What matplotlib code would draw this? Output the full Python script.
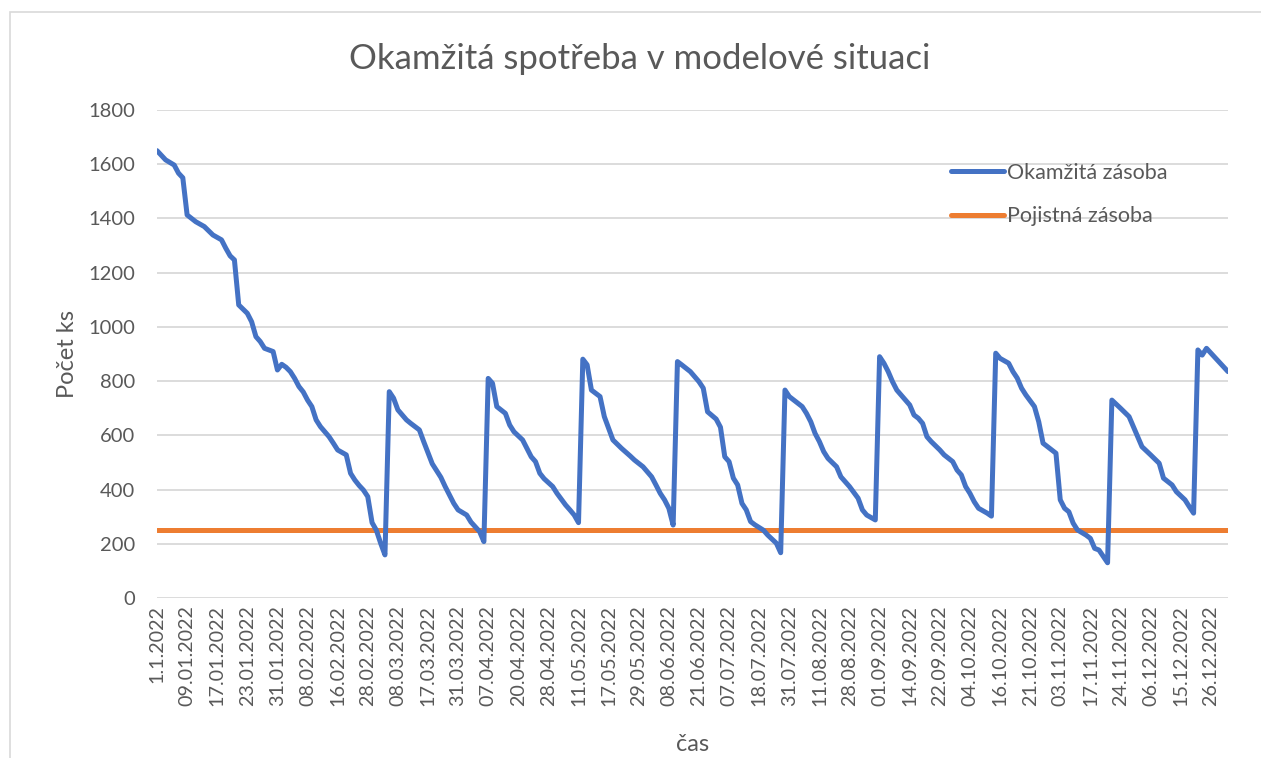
import matplotlib
matplotlib.use("Agg")
import matplotlib.pyplot as plt
from matplotlib.patches import Rectangle

# day index (category position) and on-hand stock
day_idx = [
    0, 2, 4, 5, 6, 7, 9, 11, 13, 15, 16, 17, 18, 19, 21, 22, 23, 24, 25, 27,
    28, 29, 30, 31, 32, 33, 34, 35, 36, 37, 38, 40, 41, 42, 44, 45, 46, 47, 48, 49,
    50, 51, 52, 53, 54, 55, 56, 58, 59, 61, 62, 64, 66, 67, 69, 70, 72, 73, 75, 76,
    77, 78, 79, 81, 82, 83, 85, 86, 87, 88, 89, 90, 92, 93, 95, 96, 97, 98, 99, 100,
    101, 103, 104, 106, 108, 110, 111, 113, 115, 116, 117, 118, 119, 120, 121, 122, 124, 126, 127, 128,
    130, 131, 132, 133, 134, 135, 136, 137, 138, 139, 141, 142, 144, 145, 146, 147, 150, 151, 152, 153,
    154, 155, 156, 158, 159, 160, 161, 163, 164, 165, 167, 168, 169, 170, 171, 172, 174, 175, 176, 177,
    178, 179, 180, 182, 183, 185, 186, 187, 188, 189, 190, 191, 193, 194, 195, 196, 198, 199, 200, 201,
    202, 204, 205, 206, 208, 209, 210, 211, 212, 213, 214, 216, 217, 218, 219, 221, 222, 224, 226, 227,
    228, 229, 231, 233, 234, 236, 237, 239, 240, 241, 242, 243, 244, 249,
]
stock = [
    1650, 1616, 1597, 1567, 1550, 1413, 1388, 1370, 1339, 1321, 1290, 1262, 1247, 1081, 1050, 1019, 964, 946, 921, 909,
    841, 862, 851, 835, 810, 780, 760, 730, 706, 657, 632, 595, 571, 546, 528, 460, 435, 415, 398, 374,
    278, 250, 202, 159, 761, 737, 694, 657, 644, 620, 577, 495, 445, 411, 349, 325, 306, 280, 245, 208,
    810, 792, 706, 681, 638, 613, 583, 552, 521, 503, 460, 440, 411, 386, 343, 325, 306, 278, 881, 860,
    767, 743, 669, 583, 552, 524, 509, 484, 447, 417, 386, 362, 331, 269, 872, 860, 835, 798, 774, 687,
    660, 630, 521, 503, 442, 417, 349, 325, 282, 270, 250, 232, 202, 167, 767, 743, 706, 681, 650, 607,
    577, 540, 515, 484, 447, 429, 411, 368, 325, 306, 288, 890, 866, 835, 798, 767, 730, 712, 675, 663,
    644, 595, 577, 546, 528, 503, 472, 454, 411, 386, 355, 331, 313, 302, 903, 884, 866, 835, 811, 774,
    749, 706, 650, 571, 546, 534, 362, 331, 318, 276, 251, 232, 220, 183, 177, 130, 730, 700, 669, 632,
    595, 558, 528, 497, 442, 417, 392, 362, 337, 313, 915, 896, 921, 835,
]
n_days = 250
safety_stock = 250

tick_labels = [
    "1.1.2022", "09.01.2022", "17.01.2022", "23.01.2022", "31.01.2022", "08.02.2022",
    "16.02.2022", "28.02.2022", "08.03.2022", "17.03.2022", "31.03.2022", "07.04.2022",
    "20.04.2022", "28.04.2022", "11.05.2022", "17.05.2022", "29.05.2022", "08.06.2022",
    "21.06.2022", "07.07.2022", "18.07.2022", "31.07.2022", "11.08.2022", "28.08.2022",
    "01.09.2022", "14.09.2022", "22.09.2022", "04.10.2022", "16.10.2022", "21.10.2022",
    "03.11.2022", "17.11.2022", "24.11.2022", "06.12.2022", "15.12.2022", "26.12.2022",
]
label_every = 7

plt.rcParams["font.family"] = ["Lato", "DejaVu Sans"]
txt = "#595959"

fig = plt.figure(figsize=(12.61, 7.58), dpi=100)
# chart-area frame (runs off the right and bottom edges of the picture)
fig.patches.append(Rectangle((9.5 / 1261, -0.1), 1.2, 1 - 11.5 / 758 + 0.1,
                             transform=fig.transFigure, fill=False,
                             edgecolor="#d9d9d9", lw=1.2))
ax = fig.add_axes([157 / 1261, 160 / 758, 1071 / 1261, 488 / 758])

ax.axhline(safety_stock, color="#ED7D31", lw=3.6, solid_capstyle="round",
           label="Pojistná zásoba", zorder=3)
ax.plot(day_idx, stock, color="#4472C4", lw=3.6, solid_joinstyle="round",
        solid_capstyle="round", label="Okamžitá zásoba", zorder=4)

ax.set_xlim(0, n_days - 1)
ax.set_ylim(0, 1800)
ax.set_yticks(range(0, 1801, 200))
ax.set_xticks([i * label_every for i in range(len(tick_labels))])
ax.set_xticklabels(tick_labels, rotation=90)
ax.tick_params(axis="both", length=0, colors=txt)
ax.tick_params(axis="x", pad=5, labelsize=14.2)
ax.tick_params(axis="y", pad=16, labelsize=14.5)
ax.grid(axis="y", color="#d9d9d9", lw=1.3)
ax.set_axisbelow(True)
for s in ax.spines.values():
    s.set_visible(False)

ax.set_ylabel("Počet ks", fontsize=17, color=txt, labelpad=7)
ax.set_xlabel("čas", fontsize=17, color=txt, labelpad=20)
fig.text(0.5075, 0.922, "Okamžitá spotřeba v modelové situaci", ha="center",
         va="center", fontsize=25, color=txt)

h, l = ax.get_legend_handles_labels()
ax.legend(h[::-1], l[::-1], loc="upper left", bbox_to_anchor=(0.741, 0.892),
          frameon=False, fontsize=15.5, labelcolor=txt, handlelength=2.5,
          handletextpad=0.1, labelspacing=1.1, borderpad=0, borderaxespad=0)

fig.savefig("out.png", dpi=100, facecolor="white")
